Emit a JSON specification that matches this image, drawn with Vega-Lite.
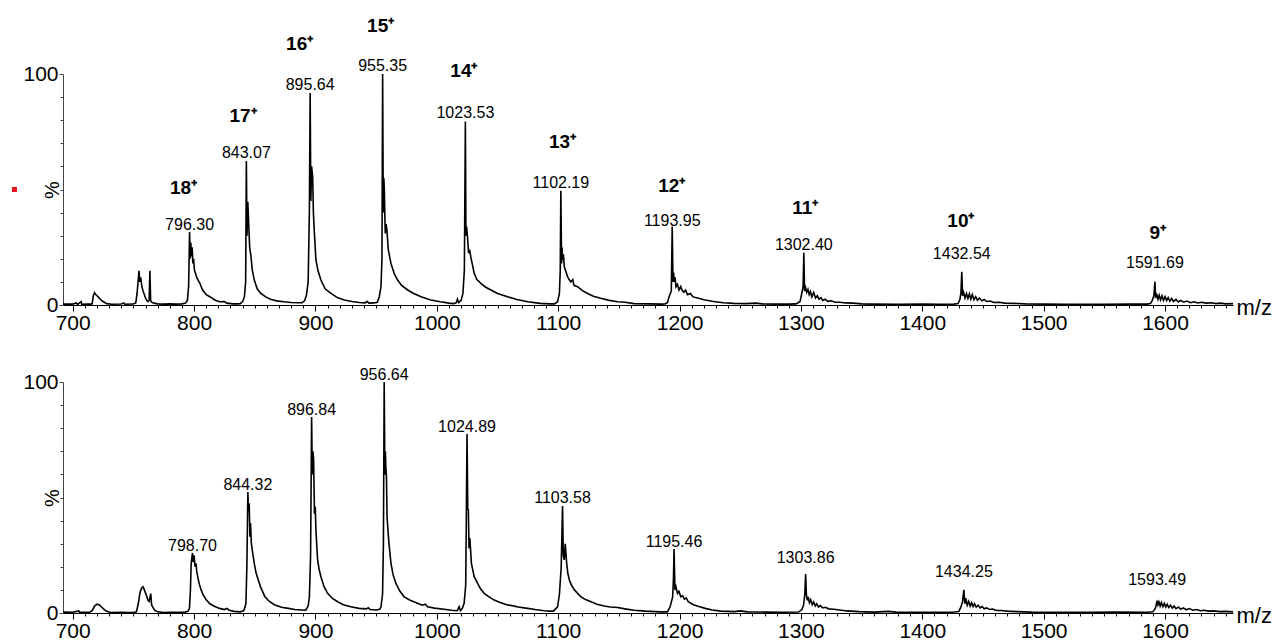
{
"$schema":"https://vega.github.io/schema/vega-lite/v6.json",
"background":"white",
"padding":{"left":11,"top":16,"right":0,"bottom":0},
"autosize":{"type":"pad"},
"bounds":"flush",
"spacing":77,
"config":{"view":{"stroke":null},"font":"Liberation Sans"},
"datasets":{
"specA":[{"m":692,"p":0.4},{"m":700,"p":0.4},{"m":703,"p":0.9},{"m":704,"p":0.3},{"m":707,"p":1.5},{"m":707.5,"p":0.3},{"m":712,"p":0.4},{"m":715,"p":0.4},{"m":716,"p":0.5},{"m":717,"p":4},{"m":718,"p":5.3},{"m":719,"p":4.5},{"m":721,"p":3.5},{"m":723,"p":2.3},{"m":725,"p":1.5},{"m":728,"p":0.6},{"m":732,"p":0.3},{"m":740,"p":0.4},{"m":742,"p":0.9},{"m":743,"p":0.3},{"m":750,"p":0.4},{"m":752,"p":1},{"m":753,"p":5},{"m":754,"p":11},{"m":754.6,"p":14.8},{"m":755.3,"p":10},{"m":756,"p":12},{"m":757,"p":8},{"m":758,"p":6},{"m":759,"p":4.5},{"m":760,"p":3},{"m":761,"p":2},{"m":762,"p":1.5},{"m":763,"p":2},{"m":763.6,"p":14.8},{"m":764.2,"p":2},{"m":765,"p":1.2},{"m":767,"p":0.8},{"m":770,"p":0.5},{"m":775,"p":0.4},{"m":780,"p":0.5},{"m":785,"p":0.4},{"m":790,"p":0.5},
{"m":793,"p":0.8},{"m":794.5,"p":2},{"m":795.5,"p":8},{"m":796.3,"p":31.6},{"m":796.8,"p":20},{"m":797.3,"p":27},{"m":797.8,"p":21},{"m":798.4,"p":25},{"m":799,"p":18},{"m":799.6,"p":20},{"m":800.3,"p":15},{"m":801,"p":14},{"m":802.5,"p":11.5},{"m":804.7,"p":9.5},{"m":807,"p":6.5},{"m":810,"p":4.5},{"m":813,"p":3.6},{"m":817,"p":2.2},{"m":821,"p":1.4},{"m":825,"p":1.5},{"m":827,"p":0.8},{"m":832,"p":0.5},
{"m":836,"p":0.5},{"m":838,"p":0.6},{"m":840,"p":1.5},{"m":841.5,"p":3.6},{"m":842.5,"p":10},{"m":843.07,"p":62.3},{"m":843.6,"p":30},{"m":844.3,"p":44.7},{"m":845,"p":35},{"m":845.8,"p":25},{"m":846.9,"p":20.9},{"m":848,"p":15},{"m":849.6,"p":10.8},{"m":852,"p":7},{"m":855,"p":5},{"m":859,"p":3.5},{"m":863,"p":2.5},{"m":868,"p":1.8},{"m":874,"p":1.4},{"m":880,"p":1.1},{"m":886,"p":1},
{"m":889,"p":1},{"m":891,"p":1.8},{"m":892.5,"p":4},{"m":894,"p":10},{"m":895,"p":40},{"m":895.64,"p":91.8},{"m":896.2,"p":45},{"m":896.8,"p":60},{"m":897.7,"p":55.5},{"m":898.3,"p":40},{"m":899,"p":32.5},{"m":900.4,"p":19.5},{"m":902,"p":15},{"m":904.5,"p":10.8},{"m":908,"p":7},{"m":912.8,"p":5},{"m":918,"p":3.2},{"m":923.7,"p":2.2},{"m":930,"p":1.5},{"m":936,"p":1.1},{"m":941,"p":0.9},{"m":942.5,"p":1.6},{"m":944,"p":0.8},
{"m":948,"p":0.9},{"m":951,"p":1.2},{"m":952.6,"p":3.6},{"m":954,"p":8},{"m":954.8,"p":20},{"m":955.35,"p":100},{"m":955.9,"p":40},{"m":956.3,"p":55},{"m":956.7,"p":51},{"m":957.5,"p":31},{"m":958.2,"p":35},{"m":958.9,"p":32.5},{"m":960,"p":24},{"m":962.2,"p":18},{"m":965,"p":13.5},{"m":967.7,"p":10.8},{"m":971,"p":8.5},{"m":976,"p":6.5},{"m":981,"p":5},{"m":987,"p":3.6},{"m":995,"p":2.2},{"m":1003,"p":1.4},{"m":1010,"p":0.8},
{"m":1014,"p":0.6},{"m":1016,"p":1},{"m":1017,"p":2.5},{"m":1018,"p":1},{"m":1020,"p":2},{"m":1021.5,"p":5},{"m":1022.7,"p":15},{"m":1023.53,"p":79.4},{"m":1024,"p":30},{"m":1024.5,"p":33.9},{"m":1025.2,"p":30},{"m":1026.2,"p":22.4},{"m":1027,"p":24},{"m":1028,"p":20.8},{"m":1030.8,"p":13.7},{"m":1033,"p":11},{"m":1036.3,"p":9.4},{"m":1040,"p":7.8},{"m":1044.6,"p":6.5},{"m":1050,"p":5},{"m":1058.3,"p":3.6},{"m":1066,"p":2.4},{"m":1075,"p":1.4},{"m":1085,"p":0.7},{"m":1093,"p":0.5},
{"m":1097,"p":0.5},{"m":1099.5,"p":1.4},{"m":1101,"p":5},{"m":1101.7,"p":15},{"m":1102.19,"p":49.5},{"m":1102.8,"p":18},{"m":1103.2,"p":25},{"m":1103.6,"p":19.5},{"m":1104.3,"p":22},{"m":1105,"p":16.6},{"m":1106,"p":15},{"m":1107.7,"p":12.3},{"m":1109,"p":11},{"m":1110.5,"p":10},{"m":1112,"p":11},{"m":1113,"p":8.5},{"m":1116,"p":7.9},{"m":1120,"p":6.2},{"m":1124.2,"p":5},{"m":1129,"p":3.8},{"m":1135,"p":2.9},{"m":1142,"p":2},{"m":1149,"p":1.4},{"m":1155,"p":1.2},{"m":1162.6,"p":0.6},{"m":1175,"p":0.5},{"m":1185,"p":0.4},
{"m":1188,"p":0.5},{"m":1190,"p":1},{"m":1191.5,"p":3.8},{"m":1193.2,"p":6},{"m":1193.95,"p":34},{"m":1194.6,"p":10},{"m":1195.1,"p":14},{"m":1195.6,"p":10},{"m":1196.3,"p":12},{"m":1197,"p":7.9},{"m":1198.3,"p":9},{"m":1199.5,"p":6.5},{"m":1201,"p":8},{"m":1202,"p":6.5},{"m":1203.5,"p":5.5},{"m":1205,"p":6.5},{"m":1206.5,"p":4.5},{"m":1209,"p":5},{"m":1211,"p":3.5},{"m":1215,"p":3},{"m":1220,"p":2.3},{"m":1228,"p":1.5},{"m":1236,"p":1},{"m":1245,"p":0.7},{"m":1255,"p":0.6},{"m":1263,"p":0.8},{"m":1268,"p":0.5},{"m":1280,"p":0.4},{"m":1290,"p":0.4},
{"m":1296,"p":0.5},{"m":1299.3,"p":1.5},{"m":1300.7,"p":5},{"m":1301.8,"p":8},{"m":1302.4,"p":22.6},{"m":1303,"p":6},{"m":1303.8,"p":7.5},{"m":1304.8,"p":5.5},{"m":1305.8,"p":6.8},{"m":1306.8,"p":4.5},{"m":1307.8,"p":5.8},{"m":1309,"p":3.5},{"m":1310.5,"p":5.5},{"m":1312,"p":3},{"m":1313.5,"p":4},{"m":1315,"p":2.5},{"m":1316.5,"p":3.2},{"m":1318,"p":2},{"m":1320,"p":2.5},{"m":1322,"p":1.6},{"m":1325,"p":1.8},{"m":1328,"p":1.2},{"m":1332,"p":1.2},{"m":1337,"p":0.9},{"m":1343,"p":0.8},{"m":1350,"p":0.5},{"m":1360,"p":0.4},{"m":1380,"p":0.3},{"m":1400,"p":0.4},{"m":1415,"p":0.3},
{"m":1426,"p":0.4},{"m":1429.5,"p":0.6},{"m":1431,"p":2.5},{"m":1431.8,"p":5},{"m":1432.54,"p":14.4},{"m":1433.2,"p":4},{"m":1434,"p":5.5},{"m":1435.2,"p":3},{"m":1436.4,"p":5},{"m":1437.6,"p":2.8},{"m":1438.8,"p":4.8},{"m":1440,"p":2.5},{"m":1441.2,"p":4.5},{"m":1442.6,"p":2.3},{"m":1444,"p":3.6},{"m":1445.5,"p":2},{"m":1447,"p":3},{"m":1449,"p":1.8},{"m":1451,"p":2.4},{"m":1453,"p":1.5},{"m":1456,"p":1.7},{"m":1459,"p":1.1},{"m":1463,"p":1.2},{"m":1468,"p":0.8},{"m":1475,"p":0.7},{"m":1485,"p":0.5},{"m":1500,"p":0.4},{"m":1520,"p":0.3},{"m":1550,"p":0.3},{"m":1570,"p":0.4},
{"m":1585,"p":0.4},{"m":1588,"p":0.6},{"m":1589.5,"p":2},{"m":1590.8,"p":4},{"m":1591.69,"p":10.1},{"m":1592.3,"p":3},{"m":1593,"p":5},{"m":1594.2,"p":2.5},{"m":1595.2,"p":4.2},{"m":1596.3,"p":2.2},{"m":1597.5,"p":4},{"m":1598.7,"p":2},{"m":1600,"p":3.6},{"m":1601.3,"p":1.9},{"m":1602.6,"p":3.2},{"m":1604,"p":1.7},{"m":1605.5,"p":2.8},{"m":1607,"p":1.5},{"m":1609,"p":2.4},{"m":1611,"p":1.3},{"m":1613,"p":2},{"m":1615.5,"p":1.2},{"m":1618,"p":1.7},{"m":1621,"p":1},{"m":1624,"p":1.4},{"m":1627,"p":0.9},{"m":1630,"p":1.2},{"m":1634,"p":0.8},{"m":1638,"p":1},{"m":1642,"p":0.6},{"m":1646,"p":0.8},{"m":1650,"p":0.5},{"m":1656,"p":0.6}],
"specB":[{"m":692,"p":0.4},{"m":700,"p":0.3},{"m":705,"p":0.9},{"m":705.5,"p":0.3},{"m":710,"p":0.3},{"m":714,"p":0.3},{"m":716,"p":1},{"m":718,"p":3},{"m":720,"p":3.8},{"m":722,"p":3.5},{"m":724,"p":2.5},{"m":726,"p":1.5},{"m":728,"p":0.7},{"m":731,"p":0.2},{"m":740,"p":0.3},{"m":745,"p":0.2},{"m":750,"p":0.2},{"m":752.5,"p":0.5},{"m":754,"p":4},{"m":755.5,"p":9},{"m":757,"p":11},{"m":758,"p":11.4},{"m":759,"p":10},{"m":760.5,"p":8},{"m":762,"p":5.5},{"m":763,"p":5},{"m":764.3,"p":8.4},{"m":765,"p":3.5},{"m":766,"p":2.5},{"m":767.5,"p":1.2},{"m":770,"p":0.5},{"m":775,"p":0.2},{"m":780,"p":0.3},{"m":786,"p":0.3},
{"m":792,"p":0.3},{"m":795,"p":0.7},{"m":796.2,"p":2},{"m":797,"p":10},{"m":797.6,"p":21.5},{"m":798.2,"p":24},{"m":798.7,"p":26},{"m":799.3,"p":22},{"m":800,"p":25},{"m":800.8,"p":20},{"m":801.6,"p":21.5},{"m":802.2,"p":18},{"m":803,"p":15.7},{"m":804.3,"p":12.5},{"m":805.8,"p":10},{"m":807.5,"p":7.8},{"m":809.8,"p":5.8},{"m":813,"p":4},{"m":816.7,"p":2.9},{"m":821,"p":2},{"m":825,"p":1.5},{"m":827,"p":2},{"m":829,"p":1.2},{"m":833,"p":0.7},{"m":838,"p":0.5},
{"m":841,"p":1},{"m":842.7,"p":4},{"m":843.5,"p":20},{"m":844.32,"p":52.4},{"m":844.8,"p":44},{"m":845.4,"p":47.5},{"m":846,"p":33},{"m":846.5,"p":39},{"m":847.2,"p":30},{"m":848,"p":27},{"m":849.6,"p":21.5},{"m":851,"p":17.5},{"m":852.9,"p":14.3},{"m":855,"p":11},{"m":858.4,"p":7},{"m":862,"p":5},{"m":866.6,"p":3.5},{"m":872,"p":2.5},{"m":877.6,"p":2},{"m":883,"p":1.5},{"m":888.5,"p":1.3},
{"m":892,"p":1.2},{"m":894,"p":3},{"m":895,"p":7},{"m":896,"p":25},{"m":896.84,"p":84.8},{"m":897.4,"p":60},{"m":898,"p":70},{"m":898.5,"p":66},{"m":899.2,"p":43},{"m":899.8,"p":46},{"m":900.4,"p":36},{"m":901.2,"p":28},{"m":901.8,"p":23},{"m":903,"p":19},{"m":904.5,"p":15.7},{"m":907,"p":11.5},{"m":910,"p":8.5},{"m":914,"p":6.3},{"m":918.3,"p":4.9},{"m":923,"p":3.6},{"m":929.2,"p":2.7},{"m":936,"p":2},{"m":942,"p":1.8},{"m":943.5,"p":2.3},{"m":945,"p":1.5},
{"m":950,"p":1.3},{"m":953,"p":1.6},{"m":954,"p":2.7},{"m":955.3,"p":8.2},{"m":956,"p":30},{"m":956.64,"p":100},{"m":957.2,"p":60},{"m":957.6,"p":70},{"m":958,"p":63},{"m":958.5,"p":59},{"m":959,"p":41.7},{"m":960,"p":34},{"m":960.6,"p":30},{"m":962.2,"p":21.6},{"m":964,"p":16.5},{"m":966.3,"p":12.8},{"m":969.5,"p":9.5},{"m":973.1,"p":7},{"m":978,"p":5.5},{"m":984.1,"p":4.2},{"m":988,"p":3.4},{"m":990.5,"p":3.8},{"m":992.4,"p":2.7},{"m":998,"p":2.1},{"m":1006,"p":1.6},{"m":1012,"p":1.2},
{"m":1017,"p":1},{"m":1018.4,"p":2.7},{"m":1019.5,"p":1},{"m":1021,"p":2},{"m":1022.5,"p":4.2},{"m":1023.8,"p":12},{"m":1024.3,"p":40},{"m":1024.89,"p":77.5},{"m":1025.5,"p":45},{"m":1026,"p":44.6},{"m":1026.5,"p":28},{"m":1027.2,"p":32.5},{"m":1028.5,"p":21.5},{"m":1030.8,"p":15.7},{"m":1033.6,"p":12.8},{"m":1036,"p":10.5},{"m":1039,"p":8.5},{"m":1043,"p":7},{"m":1047.3,"p":5.6},{"m":1052,"p":4.5},{"m":1058.3,"p":3.5},{"m":1062,"p":3.2},{"m":1067,"p":2.6},{"m":1074.8,"p":2},{"m":1081,"p":1.5},{"m":1088.5,"p":1},{"m":1093,"p":0.8},
{"m":1096,"p":0.8},{"m":1099.5,"p":2.7},{"m":1101,"p":8},{"m":1102.5,"p":20},{"m":1103.58,"p":46.3},{"m":1104.2,"p":25},{"m":1105,"p":23},{"m":1105.8,"p":30},{"m":1107,"p":21.5},{"m":1108,"p":17},{"m":1109.2,"p":14.3},{"m":1111,"p":12},{"m":1113.4,"p":10},{"m":1116,"p":8.5},{"m":1118.8,"p":7},{"m":1122.5,"p":5.8},{"m":1127.1,"p":4.9},{"m":1132,"p":3.8},{"m":1138,"p":3},{"m":1143,"p":2.6},{"m":1149,"p":2.4},{"m":1155,"p":1.8},{"m":1162.6,"p":1.2},{"m":1172,"p":0.8},{"m":1184.6,"p":0.5},
{"m":1190,"p":0.5},{"m":1192.2,"p":2.7},{"m":1194.3,"p":7},{"m":1195,"p":15},{"m":1195.46,"p":27.7},{"m":1196.2,"p":10},{"m":1197,"p":11.4},{"m":1198.3,"p":8.5},{"m":1199.5,"p":9.3},{"m":1201,"p":7},{"m":1202.5,"p":7.5},{"m":1204,"p":6},{"m":1205.5,"p":6.5},{"m":1207,"p":5},{"m":1209.3,"p":4.2},{"m":1212,"p":3.5},{"m":1216,"p":2.8},{"m":1221,"p":2},{"m":1227,"p":1.3},{"m":1234,"p":0.8},{"m":1245,"p":0.6},{"m":1250,"p":0.9},{"m":1256,"p":0.5},{"m":1270,"p":0.4},{"m":1285,"p":0.3},
{"m":1298,"p":0.4},{"m":1300.8,"p":1.5},{"m":1302.2,"p":3.5},{"m":1303.2,"p":8},{"m":1303.86,"p":16.9},{"m":1304.5,"p":8},{"m":1305.2,"p":5.5},{"m":1305.9,"p":7},{"m":1307,"p":4.5},{"m":1308,"p":5.8},{"m":1309.3,"p":3.6},{"m":1310.5,"p":4.8},{"m":1311.8,"p":3},{"m":1313,"p":4},{"m":1314.5,"p":2.6},{"m":1316,"p":3.2},{"m":1318,"p":2.2},{"m":1320,"p":2.5},{"m":1323,"p":1.8},{"m":1327,"p":1.6},{"m":1332,"p":1.3},{"m":1338,"p":0.9},{"m":1348,"p":0.6},{"m":1360,"p":0.4},{"m":1372,"p":0.7},{"m":1378,"p":0.4},{"m":1400,"p":0.3},
{"m":1425,"p":0.3},{"m":1430,"p":0.6},{"m":1431.6,"p":2.3},{"m":1433.2,"p":5},{"m":1434.25,"p":10},{"m":1435,"p":4},{"m":1435.8,"p":6.4},{"m":1437,"p":3.4},{"m":1438.2,"p":5},{"m":1439.4,"p":3},{"m":1440.6,"p":4.5},{"m":1441.8,"p":2.8},{"m":1443,"p":4},{"m":1444.4,"p":2.5},{"m":1446,"p":3.4},{"m":1447.6,"p":2.2},{"m":1449.3,"p":2.8},{"m":1451,"p":1.8},{"m":1453,"p":2.2},{"m":1455.5,"p":1.5},{"m":1458,"p":1.7},{"m":1461,"p":1.1},{"m":1465,"p":1.1},{"m":1470,"p":0.8},{"m":1478,"p":0.6},{"m":1490,"p":0.4},{"m":1510,"p":0.3},{"m":1540,"p":0.3},{"m":1560,"p":0.4},
{"m":1585,"p":0.3},{"m":1590,"p":0.5},{"m":1592,"p":2},{"m":1593.49,"p":5.3},{"m":1594.2,"p":3.5},{"m":1595,"p":4.8},{"m":1596,"p":3},{"m":1597,"p":4.5},{"m":1598.2,"p":2.8},{"m":1599.4,"p":4.2},{"m":1600.6,"p":2.6},{"m":1601.8,"p":3.8},{"m":1603,"p":2.4},{"m":1604.5,"p":3.4},{"m":1606,"p":2.1},{"m":1607.5,"p":3},{"m":1609,"p":1.9},{"m":1611,"p":2.6},{"m":1613,"p":1.6},{"m":1615,"p":2.2},{"m":1617.5,"p":1.4},{"m":1620,"p":1.9},{"m":1623,"p":1.2},{"m":1626,"p":1.5},{"m":1629,"p":1},{"m":1632,"p":1.2},{"m":1636,"p":0.8},{"m":1640,"p":0.9},{"m":1645,"p":0.6},{"m":1650,"p":0.7},{"m":1656,"p":0.5}],
"labA":[{"m":796.3,"p":32.5,"t":"796.30"},{"m":843.07,"p":63.5,"t":"843.07"},{"m":895.64,"p":93.1,"t":"895.64"},{"m":955.35,"p":101.3,"t":"955.35"},{"m":1023.53,"p":80.8,"t":"1023.53"},{"m":1102.19,"p":50.5,"t":"1102.19"},{"m":1193.95,"p":34.3,"t":"1193.95"},{"m":1302.4,"p":23.8,"t":"1302.40"},{"m":1432.54,"p":19.9,"t":"1432.54"},{"m":1591.69,"p":15.9,"t":"1591.69"}],
"chgA":[{"m":791.3,"p":48.1,"t":"18⁺"},{"m":840.3,"p":79.2,"t":"17⁺"},{"m":887,"p":110.4,"t":"16⁺"},{"m":953.7,"p":118.3,"t":"15⁺"},{"m":1022.3,"p":98.8,"t":"14⁺"},{"m":1103.6,"p":67.8,"t":"13⁺"},{"m":1193.6,"p":49.1,"t":"12⁺"},{"m":1303.6,"p":39.4,"t":"11⁺"},{"m":1431.8,"p":33.6,"t":"10⁺"},{"m":1594,"p":28.5,"t":"9⁺"}],
"labB":[{"m":798.7,"p":27,"t":"798.70"},{"m":844.32,"p":53.2,"t":"844.32"},{"m":896.84,"p":85.7,"t":"896.84"},{"m":956.64,"p":100.9,"t":"956.64"},{"m":1024.89,"p":78.5,"t":"1024.89"},{"m":1103.58,"p":47.5,"t":"1103.58"},{"m":1195.46,"p":28.7,"t":"1195.46"},{"m":1303.86,"p":21.5,"t":"1303.86"},{"m":1434.25,"p":15.7,"t":"1434.25"},{"m":1593.49,"p":12.1,"t":"1593.49"}],
"dot":[{"m":652,"p":50}]
},
"vconcat":[
{"width":1170,"height":231,
"encoding":{
"x":{"field":"m","type":"quantitative","scale":{"domain":[692,1656],"nice":false,"zero":false},
"axis":{"values":[700,710,720,730,740,750,760,770,780,790,800,810,820,830,840,850,860,870,880,890,900,910,920,930,940,950,960,970,980,990,1000,1010,1020,1030,1040,1050,1060,1070,1080,1090,1100,1110,1120,1130,1140,1150,1160,1170,1180,1190,1200,1210,1220,1230,1240,1250,1260,1270,1280,1290,1300,1310,1320,1330,1340,1350,1360,1370,1380,1390,1400,1410,1420,1430,1440,1450,1460,1470,1480,1490,1500,1510,1520,1530,1540,1550,1560,1570,1580,1590,1600,1610,1620,1630,1640,1650],
"format":"d","labelExpr":"datum.value % 100 === 0 ? datum.label : ''",
"tickSize":{"condition":{"test":"datum.value % 100 === 0","value":6},"value":3},
"labelFontSize":21,"labelColor":"black","labelPadding":1,"labelFlush":false,"labelOverlap":false,"labelBound":false,
"domainColor":"black","tickColor":"black","grid":false,
"title":"m/z","titleFontSize":22,"titleFontWeight":"normal","titleColor":"black","titleAlign":"left","titleBaseline":"alphabetic","titleX":1173,"titleY":9}},
"y":{"field":"p","type":"quantitative","scale":{"domain":[0,100],"nice":false},
"axis":{"values":[0,10,20,30,40,50,60,70,80,90,100],"labelExpr":"datum.value === 0 || datum.value === 100 ? datum.label : ''",
"tickSize":{"condition":{"test":"datum.value === 0 || datum.value === 100","value":4},"value":3},
"labelFontSize":21,"labelColor":"black","labelPadding":1,"labelFlush":false,"labelOverlap":false,
"domainColor":"#444","tickColor":"#444","grid":false,
"title":"%","titleFontSize":20,"titleFontWeight":"normal","titleColor":"black","titleAngle":270,"titleAlign":"center","titleBaseline":"middle","titleX":-11,"titleY":115.5}}},
"layer":[
{"data":{"name":"specA"},"mark":{"type":"line","color":"black","strokeWidth":1.6}},
{"data":{"name":"labA"},"mark":{"type":"text","fontSize":16,"align":"center","baseline":"alphabetic","color":"black"},"encoding":{"text":{"field":"t"}}},
{"data":{"name":"chgA"},"mark":{"type":"text","fontSize":19,"fontWeight":"bold","align":"center","baseline":"alphabetic","color":"black"},"encoding":{"text":{"field":"t"}}},
{"data":{"name":"dot"},"mark":{"type":"square","color":"#e8141b","size":25,"filled":true,"opacity":1}}
]},
{"width":1170,"height":231,
"encoding":{
"x":{"field":"m","type":"quantitative","scale":{"domain":[692,1656],"nice":false,"zero":false},
"axis":{"values":[700,710,720,730,740,750,760,770,780,790,800,810,820,830,840,850,860,870,880,890,900,910,920,930,940,950,960,970,980,990,1000,1010,1020,1030,1040,1050,1060,1070,1080,1090,1100,1110,1120,1130,1140,1150,1160,1170,1180,1190,1200,1210,1220,1230,1240,1250,1260,1270,1280,1290,1300,1310,1320,1330,1340,1350,1360,1370,1380,1390,1400,1410,1420,1430,1440,1450,1460,1470,1480,1490,1500,1510,1520,1530,1540,1550,1560,1570,1580,1590,1600,1610,1620,1630,1640,1650],
"format":"d","labelExpr":"datum.value % 100 === 0 ? datum.label : ''",
"tickSize":{"condition":{"test":"datum.value % 100 === 0","value":6},"value":3},
"labelFontSize":21,"labelColor":"black","labelPadding":1,"labelFlush":false,"labelOverlap":false,"labelBound":false,
"domainColor":"black","tickColor":"black","grid":false,
"title":"m/z","titleFontSize":22,"titleFontWeight":"normal","titleColor":"black","titleAlign":"left","titleBaseline":"alphabetic","titleX":1173,"titleY":9}},
"y":{"field":"p","type":"quantitative","scale":{"domain":[0,100],"nice":false},
"axis":{"values":[0,10,20,30,40,50,60,70,80,90,100],"labelExpr":"datum.value === 0 || datum.value === 100 ? datum.label : ''",
"tickSize":{"condition":{"test":"datum.value === 0 || datum.value === 100","value":4},"value":3},
"labelFontSize":21,"labelColor":"black","labelPadding":1,"labelFlush":false,"labelOverlap":false,
"domainColor":"#444","tickColor":"#444","grid":false,
"title":"%","titleFontSize":20,"titleFontWeight":"normal","titleColor":"black","titleAngle":270,"titleAlign":"center","titleBaseline":"middle","titleX":-11,"titleY":115.5}}},
"layer":[
{"data":{"name":"specB"},"mark":{"type":"line","color":"black","strokeWidth":1.6}},
{"data":{"name":"labB"},"mark":{"type":"text","fontSize":16,"align":"center","baseline":"alphabetic","color":"black"},"encoding":{"text":{"field":"t"}}}
]}
]
}
